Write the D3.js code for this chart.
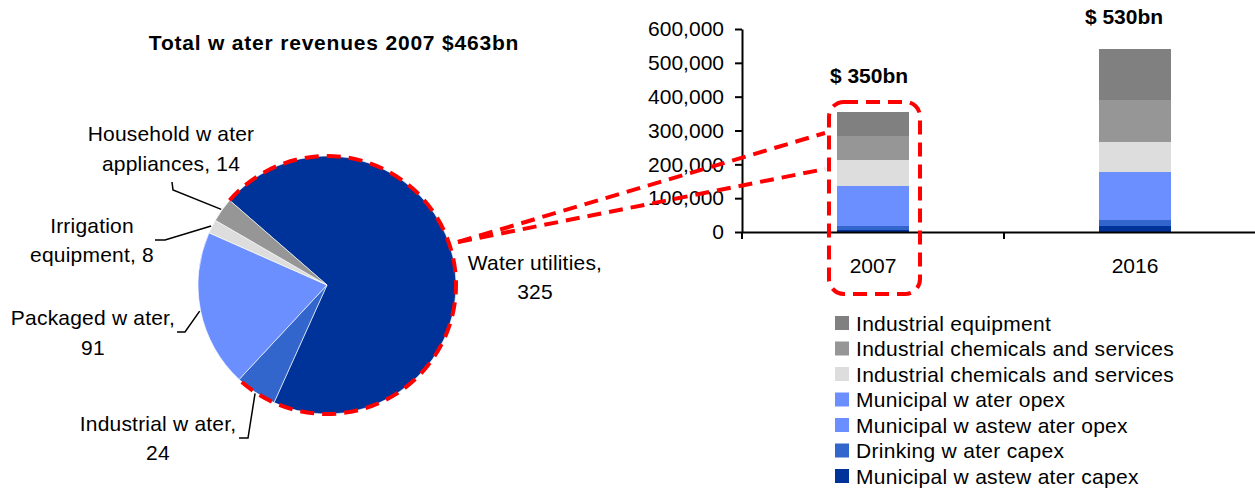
<!DOCTYPE html>
<html>
<head>
<meta charset="utf-8">
<script src="https://cdn.jsdelivr.net/npm/d3@7"></script>
<style>
  body { margin: 0; background: #fff; }
  svg { display: block; background: #fff; }
  text { font-family: Arial, "Liberation Sans", sans-serif; fill: #000; }
</style>
</head>
<body>
<svg id="chart" width="1255" height="489"></svg>
<script>
// ---------------- DATA ----------------
const pieTitle = "Total w ater revenues 2007 $463bn";
const pieCategories = ["Water utilities", "Industrial w ater", "Packaged w ater", "Irrigation equipment", "Household w ater appliances"];
const pieValues = [325, 24, 91, 8, 14];
const pieLabelLines = [
  ["Water utilities,", "325"],
  ["Industrial w ater,", "24"],
  ["Packaged w ater,", "91"],
  ["Irrigation", "equipment, 8"],
  ["Household w ater", "appliances, 14"]
];
const pieColors = ["#003399", "#3366CC", "#6B8FFF", "#DDDDDD", "#969696"];

const years = ["2007", "2016"];
// stack order, bottom to top
const seriesNames = [
  "Municipal w astew ater capex",
  "Drinking w ater capex",
  "Municipal w astew ater opex",
  "Municipal w ater opex",
  "Industrial chemicals and services",
  "Industrial chemicals and services",
  "Industrial equipment"
];
const seriesColors = ["#003399", "#3366CC", "#6B8FFF", "#6B8FFF", "#DDDDDD", "#969696", "#808080"];
const values2007 = [6000, 12000, 50000, 68000, 77000, 71000, 71000];
const values2016 = [18000, 18000, 60000, 81000, 89000, 124000, 151000];
const yTicks = [0, 100000, 200000, 300000, 400000, 500000, 600000];
const totalLabels = ["$ 350bn", "$ 530bn"];

// ---------------- SETUP ----------------
const svg = d3.select("#chart");
const FS = 21;

// ---------------- PIE ----------------
const cx = 327, cy = 285, R = 129;
const pieG = svg.append("g");
const pie = d3.pie().sort(null).value(d => d)
  .startAngle(-49 * Math.PI / 180).endAngle((360 - 49) * Math.PI / 180);
const arcs = pie(pieValues);
const arcGen = d3.arc().innerRadius(0).outerRadius(R);
const rimArc = d3.arc().innerRadius(R + 1).outerRadius(R + 1);

pieG.selectAll("path.slice").data(arcs).enter().append("path")
  .attr("class", "slice")
  .attr("transform", `translate(${cx},${cy})`)
  .attr("d", arcGen)
  .attr("fill", (d, i) => pieColors[i])
  .attr("stroke", "#ffffff")
  .attr("stroke-width", 0.6);

// title
svg.append("text").attr("x", 334).attr("y", 50)
  .attr("text-anchor", "middle").attr("font-weight", "bold")
  .attr("letter-spacing", 0.8)
  .attr("font-size", FS).text(pieTitle);

// red dashed outline over water utilities + industrial water
const pth = d3.path();
pth.arc(cx, cy, R, arcs[0].startAngle - Math.PI / 2, arcs[1].endAngle - Math.PI / 2);
svg.append("path").attr("d", pth.toString())
  .attr("fill", "none").attr("stroke", "#ff0000")
  .attr("stroke-width", 4).attr("stroke-dasharray", "14,8");

// labels
const labelPos = [
  { x: 535, y1: 262, y2: 291, leader: null },
  { x: 158, y1: 423, y2: 452, leader: [[239, 438], [248, 438]] },
  { x: 93,  y1: 317, y2: 347, leader: [[177, 332], [185, 332]] },
  { x: 92,  y1: 225, y2: 254, leader: [[155, 240], [165, 240]] },
  { x: 171, y1: 133, y2: 163, leader: [[172, 182], [173, 190]] }
];
arcs.forEach((a, i) => {
  const lp = labelPos[i];
  const t = svg.append("text").attr("text-anchor", "middle").attr("font-size", FS)
    .attr("letter-spacing", 0.2);
  t.append("tspan").attr("x", lp.x).attr("y", lp.y1 + 7.5).text(pieLabelLines[i][0]);
  t.append("tspan").attr("x", lp.x).attr("y", lp.y2 + 7.5).text(pieLabelLines[i][1]);
  if (lp.leader) {
    const c = rimArc.centroid(a);
    const pts = lp.leader.concat([[cx + c[0], cy + c[1]]]);
    svg.append("path").attr("d", d3.line()(pts))
      .attr("fill", "none").attr("stroke", "#000").attr("stroke-width", 1.5);
  }
});

// ---------------- STACKED BARS ----------------
const x0 = 742, yBase = 232, yTop = 29;
const x = d3.scaleBand().domain(years).range([x0, x0 + 524])
  .paddingInner(0.725).paddingOuter(0.3625);
const y = d3.scaleLinear().domain([0, 600000]).range([yBase, yTop]);

const rows = years.map((yr, i) => ({ year: yr, values: i === 0 ? values2007 : values2016 }));
const stack = d3.stack().keys(d3.range(seriesNames.length)).value((d, k) => d.values[k]);
const stacked = stack(rows);

const barG = svg.append("g").attr("shape-rendering", "crispEdges");
stacked.forEach((layer, k) => {
  barG.selectAll(null).data(layer).enter().append("rect")
    .attr("x", d => x(d.data.year))
    .attr("width", x.bandwidth())
    .attr("y", d => Math.round(y(d[1])))
    .attr("height", d => Math.round(y(d[0])) - Math.round(y(d[1])))
    .attr("fill", seriesColors[k]);
});

// y axis
const yAxis = d3.axisLeft(y).tickValues(yTicks).tickFormat(d3.format(","))
  .tickSize(7).tickSizeOuter(0).tickPadding(11);
const yg = svg.append("g").attr("transform", `translate(${x0},0)`).call(yAxis);
yg.selectAll("text").attr("font-size", FS).attr("font-family", "Arial, 'Liberation Sans', sans-serif").attr("fill", "#000");
yg.selectAll("line, path").attr("stroke", "#000").attr("stroke-width", 2);

// x axis
const xAxis = d3.axisBottom(x).tickSize(0).tickPadding(25.6);
const xg = svg.append("g").attr("transform", `translate(0,${yBase})`).call(xAxis);
xg.select("path.domain").attr("stroke", "#000").attr("stroke-width", 2);
xg.selectAll("text").attr("font-size", FS).attr("font-family", "Arial, 'Liberation Sans', sans-serif").attr("fill", "#000");
// category boundary ticks
const bounds = [x0, x0 + x.step(), x0 + 2 * x.step()];
xg.selectAll("line.bt").data(bounds).enter().append("line")
  .attr("class", "bt").attr("x1", d => d).attr("x2", d => d)
  .attr("y1", 0).attr("y2", 7).attr("stroke", "#000").attr("stroke-width", 2);

// totals
const totals = rows.map(r => d3.sum(r.values));
const totalOffsets = [-4, -11];
years.forEach((yr, i) => {
  svg.append("text")
    .attr("x", x(yr) + x.bandwidth() / 2 + totalOffsets[i])
    .attr("y", i === 0 ? 83 : 24)
    .attr("text-anchor", "middle").attr("font-weight", "bold")
    .attr("font-size", FS).text(totalLabels[i]);
});

// ---------------- CALLOUT ----------------
const bx = x("2007");
const rectL = bx - 8, rectR = bx + x.bandwidth() + 11;
const rectT = y(totals[0]) - 10, rectB = 294;
svg.append("rect")
  .attr("x", rectL).attr("y", rectT)
  .attr("width", rectR - rectL).attr("height", rectB - rectT)
  .attr("rx", 15).attr("ry", 15)
  .attr("fill", "none").attr("stroke", "#ff0000")
  .attr("stroke-width", 4).attr("stroke-dasharray", "14,8");

const startPt = [cx + 131, cy - 43];
[[rectL - 4, 133], [rectL - 4, 169]].forEach(end => {
  svg.append("line")
    .attr("x1", startPt[0]).attr("y1", startPt[1])
    .attr("x2", end[0]).attr("y2", end[1])
    .attr("stroke", "#ff0000").attr("stroke-width", 4)
    .attr("stroke-dasharray", "14,8");
});

// ---------------- LEGEND ----------------
const legendOrder = d3.range(seriesNames.length).reverse();
const lg = svg.append("g");
legendOrder.forEach((k, i) => {
  const cyL = 323 + i * 25.5;
  lg.append("rect").attr("x", 835).attr("y", cyL - 7).attr("width", 14).attr("height", 14)
    .attr("fill", seriesColors[k]);
  lg.append("text").attr("x", 856).attr("y", cyL + 7.5)
    .attr("letter-spacing", 0.3)
    .attr("font-size", FS).text(seriesNames[k]);
});
</script>
</body>
</html>
